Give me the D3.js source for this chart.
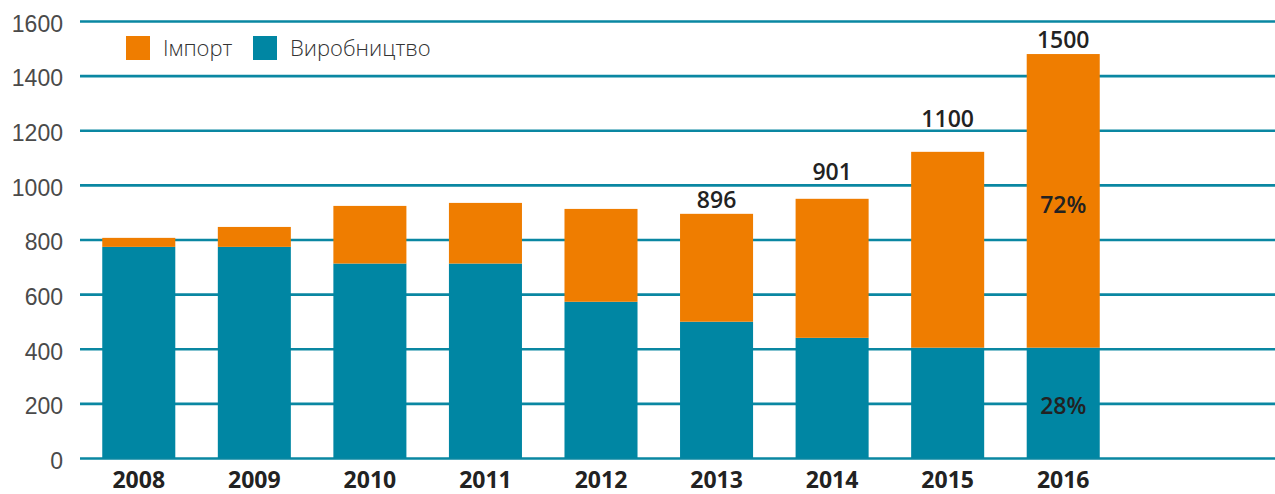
<!DOCTYPE html>
<html>
<head>
<meta charset="utf-8">
<script src="https://cdn.jsdelivr.net/npm/d3@7"></script>
<style>
  body { margin: 0; background: #fff; }
  svg { display: block; font-family: "Open Sans", sans-serif; }
</style>
</head>
<body>
<div id="chart-area"></div>
<script>
// data
var years = ['2008', '2009', '2010', '2011', '2012', '2013', '2014', '2015', '2016'];
var production = [773, 773, 712, 712, 572, 499, 440, 404, 404];
var imports = [33, 73, 211, 222, 340, 395, 509, 717, 1075];
var totalLabels = ['', '', '', '', '', '896', '901', '1100', '1500'];
var shareLabels = { year: '2016', imports: '72%', production: '28%' };
var yTicks = [0, 200, 400, 600, 800, 1000, 1200, 1400, 1600];
var seriesNames = ['Імпорт', 'Виробництво'];

var colors = { imports: '#ef7d00', production: '#0086a3', grid: '#0a87a2' };

var W = 1275, H = 494;
var margins = { top: 21, bottom: 36, left: 80, right: 0 };
var height = H - margins.top - margins.bottom;

var svg = d3.select('#chart-area')
    .append('svg')
    .attr('width', W)
    .attr('height', H);

var y = d3.scaleLinear()
    .domain([0, 1600])
    .range([margins.top + height, margins.top]);

var x = d3.scaleBand()
    .domain(years)
    .range([81, 1121])
    .paddingInner(0.368)
    .paddingOuter(0.184);

// gridlines + y labels
var yAxis = svg.append('g')
    .attr('class', 'y-axis')
    .attr('transform', `translate(${margins.left}, 0)`)
    .call(d3.axisLeft(y)
        .tickValues(yTicks)
        .tickFormat(d3.format('d'))
        .tickSize(-(W - margins.left))
        .tickPadding(17));

yAxis.select('.domain').remove();
yAxis.selectAll('line')
    .attr('stroke', colors.grid)
    .attr('stroke-width', 2.6);
yAxis.selectAll('text')
    .attr('fill', '#4a4a4a')
    .attr('font-size', '23px')
    .attr('font-weight', 300)
    .attr('dy', '0.45em');

var rows = years.map((yr, i) => ({ year: yr, production: production[i], imports: imports[i] }));
var stack = d3.stack().keys(['production', 'imports'])(rows);

svg.selectAll('g.layer')
    .data(stack)
    .enter()
    .append('g')
    .attr('class', 'layer')
    .attr('fill', d => colors[d.key])
    .selectAll('rect')
    .data(d => d)
    .enter()
    .append('rect')
    .attr('x', d => x(d.data.year))
    .attr('y', d => y(d[1]))
    .attr('width', x.bandwidth())
    .attr('height', d => y(d[0]) - y(d[1]));

// x labels
svg.append('g')
    .selectAll('text')
    .data(years)
    .enter()
    .append('text')
    .attr('x', d => x(d) + x.bandwidth() / 2)
    .attr('y', 488)
    .attr('text-anchor', 'middle')
    .attr('font-size', '23px')
    .attr('font-weight', 700)
    .attr('fill', '#222')
    .text(d => d);

// total labels above bars
var labelGap = [6, 6, 6, 6, 6, 6, 19, 25, 6];
svg.append('g')
    .selectAll('text')
    .data(rows)
    .enter()
    .append('text')
    .attr('x', d => x(d.year) + x.bandwidth() / 2)
    .attr('y', (d, i) => y(d.production + d.imports) - labelGap[i])
    .attr('text-anchor', 'middle')
    .attr('font-size', '23px')
    .attr('font-weight', 600)
    .attr('fill', '#222')
    .text((d, i) => totalLabels[i]);

// shares in last bar
var last = rows.find(r => r.year === shareLabels.year);
svg.append('text')
    .attr('x', x(last.year) + x.bandwidth() / 2)
    .attr('y', y(1000) + 28)
    .attr('text-anchor', 'middle')
    .attr('font-size', '23px')
    .attr('font-weight', 600)
    .attr('fill', '#222')
    .text(shareLabels.imports);
svg.append('text')
    .attr('x', x(last.year) + x.bandwidth() / 2)
    .attr('y', y(200) + 11)
    .attr('text-anchor', 'middle')
    .attr('font-size', '23px')
    .attr('font-weight', 600)
    .attr('fill', '#222')
    .text(shareLabels.production);

// legend
var legend = svg.append('g').attr('transform', 'translate(126, 36)');
var legendItems = [
    { name: seriesNames[0], color: colors.imports, x: 0 },
    { name: seriesNames[1], color: colors.production, x: 127 }
];
legendItems.forEach(item => {
    legend.append('rect')
        .attr('x', item.x)
        .attr('y', 0)
        .attr('width', 24)
        .attr('height', 24)
        .attr('fill', item.color);
    legend.append('text')
        .attr('x', item.x + 37)
        .attr('y', 20)
        .attr('font-size', '22px')
        .attr('font-weight', 300)
        .attr('fill', '#333')
        .text(item.name);
});
</script>
</body>
</html>
